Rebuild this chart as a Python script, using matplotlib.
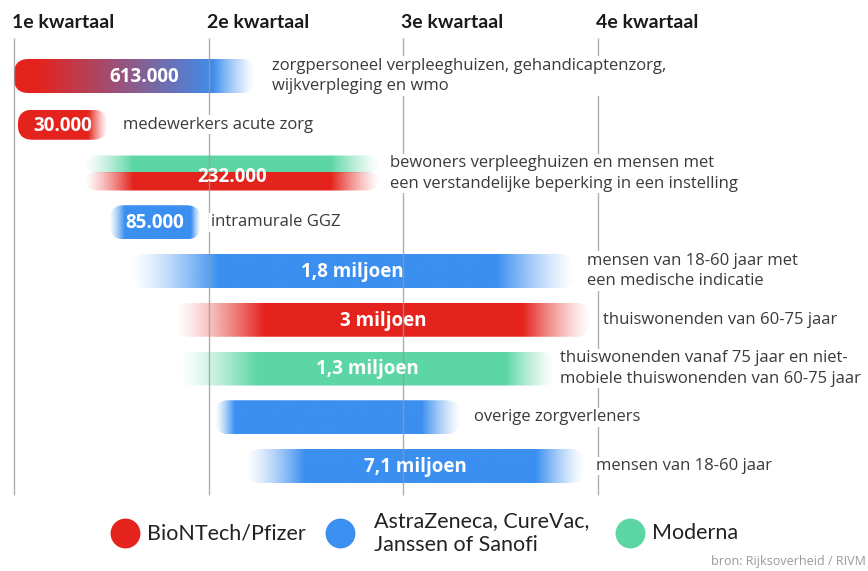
import numpy as np
import matplotlib.pyplot as plt
from matplotlib.colors import to_rgb
from matplotlib.patches import FancyBboxPatch

# ── Gegevens ──────────────────────────────────────────────────────────────
kwartalen = ["1e kwartaal", "2e kwartaal", "3e kwartaal", "4e kwartaal"]

aantallen = ["613.000", "30.000", "232.000", "85.000", "1,8 miljoen",
             "3 miljoen", "1,3 miljoen", "", "7,1 miljoen"]
groepen = [
    "zorgpersoneel verpleeghuizen, gehandicaptenzorg,\nwijkverpleging en wmo",
    "medewerkers acute zorg",
    "bewoners verpleeghuizen en mensen met\neen verstandelijke beperking in een instelling",
    "intramurale GGZ",
    "mensen van 18-60 jaar met\neen medische indicatie",
    "thuiswonenden van 60-75 jaar",
    "thuiswonenden vanaf 75 jaar en niet-\nmobiele thuiswonenden van 60-75 jaar",
    "overige zorgverleners",
    "mensen van 18-60 jaar",
]
# begin en eind in kwartalen (0 = begin 1e kwartaal)
start = [0.00, 0.02, 0.36, 0.49, 0.60, 0.83, 0.85, 1.03, 1.19]
eind = [1.24, 0.48, 1.88, 0.96, 2.88, 2.96, 2.78, 2.29, 2.93]
vaccin = [["pfizer", "astra"], ["pfizer"], ["moderna", "pfizer"], ["astra"],
          ["astra"], ["pfizer"], ["moderna"], ["astra"], ["astra"]]

merken = ["pfizer", "astra", "moderna"]
merk_namen = ["BioNTech/Pfizer", "AstraZeneca, CureVac,\nJanssen of Sanofi", "Moderna"]

# ── Stijl ─────────────────────────────────────────────────────────────────
kleur = {"pfizer": "#e4231d", "astra": "#3b8ff0", "moderna": "#5dd6a6"}
# vervaging links / rechts (in kwartalen)
fade_l = [0.00, 0.00, 0.25, 0.08, 0.45, 0.45, 0.40, 0.10, 0.30]
fade_r = [0.22, 0.10, 0.25, 0.05, 0.40, 0.35, 0.25, 0.20, 0.25]
label_dx = [0.085, 0.08, 0.05, 0.05, 0.065, 0.065, 0.025, 0.075, 0.06]

PX = 194.67   # pixels per kwartaal
PY = 48.75    # pixels per rij
X0, Y0 = 14, 76

fig = plt.figure(figsize=(8.68, 5.71), dpi=100)
fig.patch.set_facecolor("white")
ax = fig.add_axes([0, 0, 1, 1])
ax.set_xlim(-X0 / PX, (868 - X0) / PX)
ax.set_ylim((571 - Y0) / PY, -Y0 / PY)
ax.axis("off")

tekst = "#3a3a3a"
body_font = "Open Sans"
cond_font = "Lato"

# kwartaallijnen
ax.vlines(range(len(kwartalen)), (38 - Y0) / PY, (495 - Y0) / PY,
          color="#9a9a9a", lw=1, zorder=3, alpha=0.8)
for i, k in enumerate(kwartalen):
    ax.text(i - 0.01, (22 - Y0) / PY, k, fontsize=14, fontweight="bold",
            family=cond_font, color="#1a1a1a", ha="left", va="center")


def balk(x0, x1, yc, h, kleuren, fl, fr, z=2):
    n = 400
    xs = np.linspace(x0, x1, n)
    t = np.linspace(0, 1, n)
    rgb = np.zeros((n, 3))
    if len(kleuren) == 1:
        rgb[:] = to_rgb(kleuren[0])
    else:
        a, b = np.array(to_rgb(kleuren[0])), np.array(to_rgb(kleuren[1]))
        w = np.clip((t - 0.1) / 0.75, 0, 1)[:, None]
        rgb = a * (1 - w) + b * w
    alpha = np.ones(n)
    if fl > 0:
        alpha = np.minimum(alpha, np.clip((xs - x0) / fl, 0, 1))
    if fr > 0:
        alpha = np.minimum(alpha, np.clip((x1 - xs) / fr, 0, 1))
    alpha = alpha ** 1.3
    img = np.dstack([rgb[None, :, 0], rgb[None, :, 1], rgb[None, :, 2], alpha[None, :]])
    im = ax.imshow(img, extent=(x0, x1, yc + h / 2, yc - h / 2), aspect="auto",
                   interpolation="bilinear", zorder=z)
    clip = FancyBboxPatch((x0, yc - h / 2), x1 - x0, h,
                          boxstyle="round,pad=0,rounding_size=0.075",
                          mutation_aspect=PX / PY, transform=ax.transData,
                          facecolor="none", edgecolor="none")
    ax.add_patch(clip)
    im.set_clip_path(clip)


H = 34 / PY
for i in range(len(groepen)):
    x0, x1 = start[i], eind[i]
    v = vaccin[i]
    dy = 0.02
    if len(v) == 2 and i == 2:
        # gestapeld: bovenste helft Moderna, onderste helft Pfizer
        balk(x0, x1, i - H / 4 - 0.02, H / 2, [kleur[v[0]]], fade_l[i], fade_r[i])
        balk(x0, x1, i + H / 4 - 0.02, H / 2 + 0.04, [kleur[v[1]]], fade_l[i], fade_r[i])
        dy = 0.08
    elif len(v) == 2:
        balk(x0, x1, i, H, [kleur[v[0]], kleur[v[1]]], fade_l[i], fade_r[i])
    else:
        balk(x0, x1, i, H if i != 1 else 30 / PY, [kleur[v[0]]], fade_l[i], fade_r[i])

    if aantallen[i]:
        xc = (x0 + x1) / 2 + (0.05 if i == 0 else 0)
        ax.text(xc, i + dy, aantallen[i], fontsize=13.5, fontweight="bold",
                family=body_font, color="white", ha="center", va="center", zorder=5)
    ax.text(x1 + label_dx[i], i, groepen[i], fontsize=12, family=body_font,
            color=tekst, ha="left", va="center", linespacing=1.4, zorder=4,
            bbox=dict(facecolor="white", edgecolor="none", pad=1))

# legenda
leg_x = [125, 340, 630]
leg_y = (533 - Y0) / PY
for m, naam, lx in zip(merken, merk_namen, leg_x):
    ax.scatter([(lx - X0) / PX], [leg_y], s=420, color=kleur[m], zorder=4)
    ax.text((lx + 22 - X0) / PX + (0.06 if m == "astra" else 0), leg_y, naam,
            fontsize=15.5, family=cond_font, color="#222222", ha="left", va="center",
            linespacing=1.3)

ax.text((866 - X0) / PX, (562 - Y0) / PY, "bron: Rijksoverheid / RIVM",
        fontsize=9, family=body_font, color="#999999", ha="right", va="center")

fig.savefig("out.png", dpi=100, facecolor="white")
